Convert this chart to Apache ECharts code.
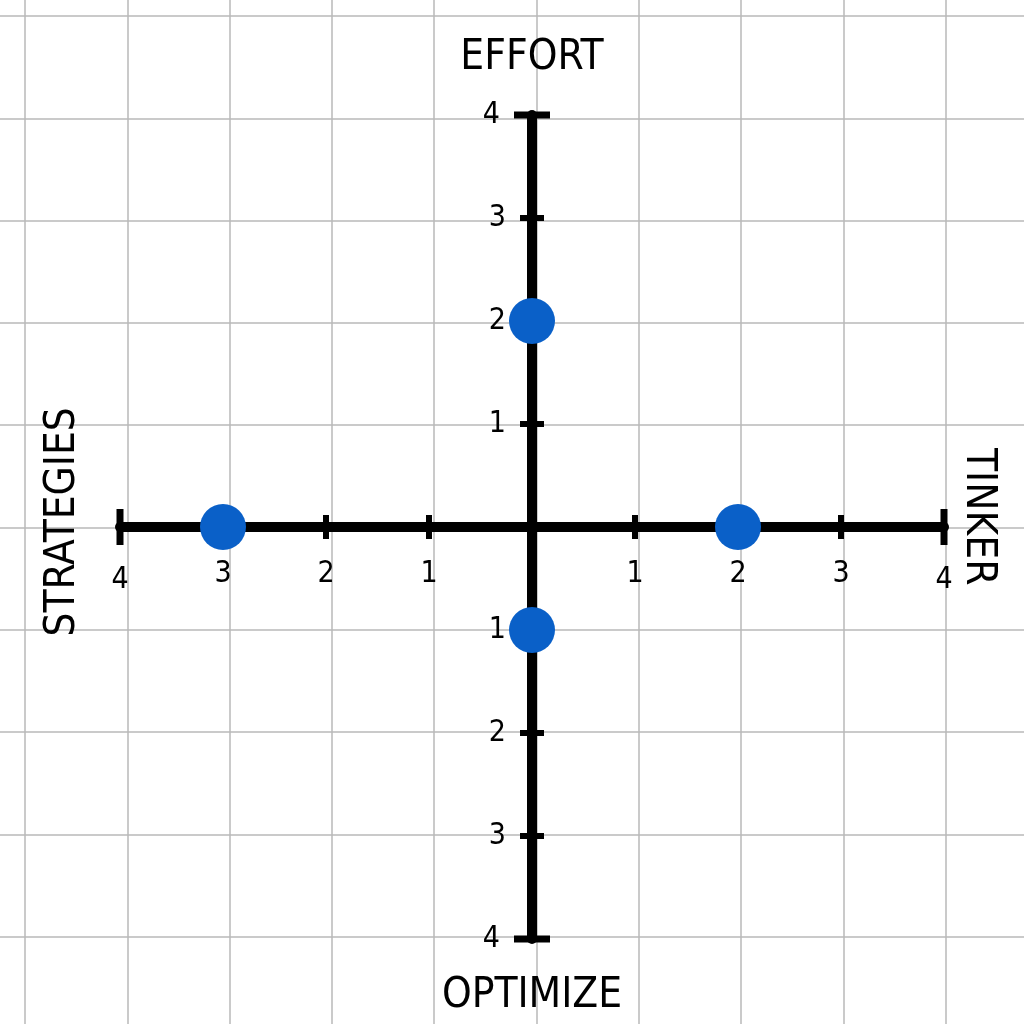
<!DOCTYPE html>
<html>
<head>
<meta charset="utf-8">
<script src="https://cdn.jsdelivr.net/npm/echarts@6/dist/echarts.min.js"></script>
<style>html,body{margin:0;padding:0;background:#fff}#c{width:1024px;height:1024px}</style>
</head>
<body>
<div id="c"></div>
<script>
// ---- data ----
const xTicks = [-4, -3, -2, -1, 1, 2, 3, 4];
const xTickLabels = ['4', '3', '2', '1', '1', '2', '3', '4'];
const yTicks = [4, 3, 2, 1, -1, -2, -3, -4];
const yTickLabels = ['4', '3', '2', '1', '1', '2', '3', '4'];
const pointX = [-3, 2, 0, 0];
const pointY = [0, 0, 2, -1];
const axisExtent = 4;
const titleTop = 'EFFORT';
const titleBottom = 'OPTIMIZE';
const titleLeft = 'STRATEGIES';
const titleRight = 'TINKER';

const FONT = '"DejaVu Sans Condensed", "DejaVu Sans", sans-serif';
const chart = echarts.init(document.getElementById('c'));

const paperAxis = {
  type: 'value', gridIndex: 0, min: -6, max: 6, interval: 1,
  axisLine: { show: false }, axisTick: { show: false }, axisLabel: { show: false },
  splitLine: { show: true, lineStyle: { color: '#b8b8b8', width: 1.5 } }
};
const markAxis = {
  type: 'value', gridIndex: 1, min: -5, max: 5, interval: 1,
  axisLine: { show: false }, axisTick: { show: false }, axisLabel: { show: false },
  splitLine: { show: false }
};

const xTickData = xTicks.map((v, i) => ({ value: [v, 0], label: xTickLabels[i] }));
const yTickData = yTicks.map((v, i) => ({ value: [0, v], label: yTickLabels[i] }));

chart.setOption({
  animation: false,
  backgroundColor: '#ffffff',
  grid: [
    { left: -77.3, top: -86.3, width: 1227.6, height: 1227.6, outerBoundsMode: 'none', containLabel: false },
    { left: 17, top: 12, width: 1030, height: 1030, outerBoundsMode: 'none', containLabel: false }
  ],
  xAxis: [paperAxis, markAxis],
  yAxis: [paperAxis, markAxis],
  series: [
    // horizontal axis line
    { type: 'line', xAxisIndex: 1, yAxisIndex: 1, symbol: 'none', silent: true,
      data: [[-axisExtent, 0], [axisExtent, 0]],
      lineStyle: { color: '#000', width: 10, cap: 'round' } },
    // vertical axis line
    { type: 'line', xAxisIndex: 1, yAxisIndex: 1, symbol: 'none', silent: true,
      data: [[0, -axisExtent], [0, axisExtent]],
      lineStyle: { color: '#000', width: 10, cap: 'round' } },
    // x ticks with labels
    { type: 'scatter', xAxisIndex: 1, yAxisIndex: 1, silent: true,
      symbol: 'rect', symbolSize: (v) => Math.abs(v[0]) === axisExtent ? [7, 36] : [6, 24],
      itemStyle: { color: '#000', opacity: 1 },
      data: xTickData.map(d => ({ value: d.value, label: { formatter: d.label } })),
      label: { show: true, position: 'bottom', distance: 20, color: '#000',
        fontSize: 30, fontFamily: FONT } },
    // y ticks with labels
    { type: 'scatter', xAxisIndex: 1, yAxisIndex: 1, silent: true,
      symbol: 'rect', symbolSize: (v) => Math.abs(v[1]) === axisExtent ? [36, 7] : [24, 6],
      itemStyle: { color: '#000', opacity: 1 },
      data: yTickData.map(d => ({ value: d.value, label: { formatter: d.label } })),
      label: { show: true, position: 'left', distance: 14, color: '#000',
        fontSize: 30, fontFamily: FONT } },
    // points
    { type: 'scatter', xAxisIndex: 1, yAxisIndex: 1, silent: true,
      symbol: 'circle', symbolSize: 46, z: 10,
      itemStyle: { color: '#0a60c8', opacity: 1 },
      data: pointX.map((x, i) => [x, pointY[i]]) },
    // axis titles
    { type: 'scatter', xAxisIndex: 1, yAxisIndex: 1, silent: true,
      symbolSize: 0,
      itemStyle: { color: '#000', opacity: 1 },
      data: [
        { value: [0, 4.55], label: { formatter: titleTop } },
        { value: [0, -4.55], label: { formatter: titleBottom } },
        { value: [-4.55, 0.05], label: { formatter: titleLeft, rotate: 90 } },
        { value: [4.33, 0.1], label: { formatter: titleRight, rotate: -90 } }
      ],
      label: { show: true, position: 'inside', color: '#000', fontSize: 42,
        textBorderWidth: 0, textBorderColor: 'transparent', opacity: 1,
        fontFamily: FONT } }
  ]
});
</script>
</body>
</html>
